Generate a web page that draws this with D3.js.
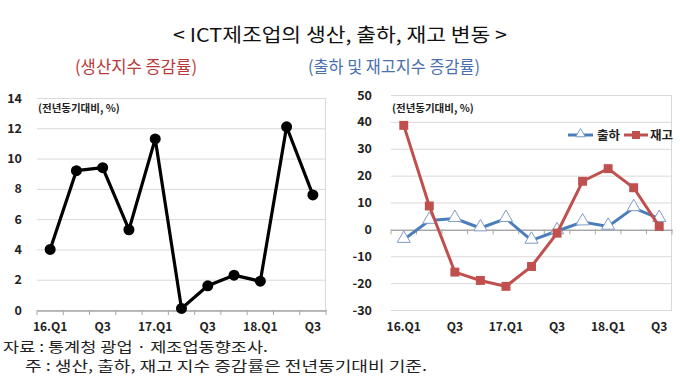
<!DOCTYPE html>
<html>
<head>
<meta charset="utf-8">
<script src="https://cdn.jsdelivr.net/npm/d3@7"></script>
<style>
body { margin: 0; background: #fff; }
svg { display: block; font-family: "Noto Sans CJK KR", "Noto Sans", sans-serif; }
</style>
</head>
<body>
<div id="body"></div>
<script>
var quarters = ['16.Q1','16.Q2','16.Q3','16.Q4','17.Q1','17.Q2','17.Q3','17.Q4','18.Q1','18.Q2','18.Q3'];
var qLabels = ['16.Q1','','Q3','','17.Q1','','Q3','','18.Q1','','Q3'];
var production = [4.0, 9.2, 9.4, 5.3, 11.3, 0.1, 1.6, 2.3, 1.9, 12.1, 7.6];
var shipment = [-3.8, 3.3, 4.0, 0.5, 4.0, -4.1, -0.6, 2.7, 1.1, 8.0, 4.0];
var inventory = [38.7, 8.7, -15.9, -19.0, -21.2, -13.8, -1.4, 17.9, 22.6, 15.5, 1.1];
var leftTicks = [0, 2, 4, 6, 8, 10, 12, 14];
var rightTicks = [-30, -20, -10, 0, 10, 20, 30, 40, 50];

var W = 680, H = 388;
var svg = d3.select("#body").append("svg").attr("width", W).attr("height", H);

// titles
svg.append("text").attr("x", 340).attr("y", 42).attr("text-anchor", "middle")
  .attr("font-size", 19).attr("fill", "#111")
  .attr("textLength", 334).attr("lengthAdjust", "spacingAndGlyphs")
  .text("< ICT제조업의 생산, 출하, 재고 변동 >");
svg.append("text").attr("x", 136).attr("y", 73).attr("text-anchor", "middle")
  .attr("font-size", 17).attr("fill", "#b83a3a")
  .attr("textLength", 122).attr("lengthAdjust", "spacingAndGlyphs")
  .text("(생산지수 증감률)");
svg.append("text").attr("x", 394).attr("y", 73).attr("text-anchor", "middle")
  .attr("font-size", 17).attr("fill", "#4a6fb0")
  .attr("textLength", 172).attr("lengthAdjust", "spacingAndGlyphs")
  .text("(출하 및 재고지수 증감률)");

function drawPanel(cfg) {
  var x = d3.scaleBand().domain(quarters).range(cfg.xr);
  var y = d3.scaleLinear().domain(cfg.yd).range([310, cfg.ytop]);
  var g = svg.append("g");

  // grid
  g.selectAll("line.grid").data(cfg.ticks).enter().append("line")
    .attr("x1", cfg.xr[0]).attr("x2", cfg.xr[1])
    .attr("y1", function(d){ return y(d) + 0.5; }).attr("y2", function(d){ return y(d) + 0.5; })
    .attr("stroke", "#d9d9d9");
  g.append("line").attr("x1", cfg.xr[1] - 0.5).attr("x2", cfg.xr[1] - 0.5)
    .attr("y1", y(cfg.yd[1])).attr("y2", y(cfg.yd[0])).attr("stroke", "#d9d9d9");

  // y labels
  g.selectAll("text.yl").data(cfg.ticks).enter().append("text")
    .attr("x", cfg.xr[0] - cfg.gap).attr("y", function(d){ return y(d) + 4.5; })
    .attr("text-anchor", "end").attr("font-size", 12.5).attr("font-weight", "bold")
    .attr("fill", "#222").text(function(d){ return d; });

  // x axis at zero
  var axis = d3.axisBottom(x).tickSize(0).tickFormat("");
  var ax = g.append("g").attr("transform", "translate(0," + (y(0) + 0.5) + ")").call(axis);
  ax.select(".domain").attr("stroke", "#a6a6a6").attr("stroke-width", 1.3);
  var bounds = quarters.map(function(q){ return x(q); }).concat([cfg.xr[1]]);
  g.selectAll("line.tk").data(bounds).enter().append("line")
    .attr("x1", function(d){ return d; }).attr("x2", function(d){ return d; })
    .attr("y1", y(0)).attr("y2", y(0) + 5).attr("stroke", "#a6a6a6");

  var shown = quarters.filter(function(q, i){ return qLabels[i] !== ''; });
  g.selectAll("text.xl").data(shown).enter().append("text")
    .attr("x", function(d){ return x(d) + x.bandwidth() / 2; }).attr("y", 331)
    .attr("text-anchor", "middle").attr("font-size", 12).attr("font-weight", "bold")
    .attr("fill", "#222").text(function(d){ return qLabels[quarters.indexOf(d)]; });

  g.append("text").attr("x", cfg.xr[0] + 1).attr("y", 112)
    .attr("font-size", 10.5).attr("font-weight", "bold").attr("fill", "#222")
    .text("(전년동기대비, %)");

  return { x: x, y: y, g: g };
}

// left panel
var L = drawPanel({ xr: [37, 326], yd: [0, 14], ytop: 98, ticks: leftTicks, gap: 15 });
var cx = function(d, i){ return L.x(quarters[i]) + L.x.bandwidth() / 2; };
L.g.append("path").datum(production)
  .attr("d", d3.line().x(cx).y(function(d){ return L.y(d); }))
  .attr("fill", "none").attr("stroke", "#000").attr("stroke-width", 3.2).attr("stroke-linejoin", "round");
L.g.selectAll("circle").data(production).enter().append("circle")
  .attr("cx", cx).attr("cy", function(d){ return L.y(d); }).attr("r", 5.5).attr("fill", "#000");

// right panel
var R = drawPanel({ xr: [391, 672], yd: [-30, 50], ytop: 95, ticks: rightTicks, gap: 19 });
var rx = function(d, i){ return R.x(quarters[i]) + R.x.bandwidth() / 2; };
var blue = "#4a7ebb", red = "#c0504d";
var tri = d3.symbol().type(d3.symbolTriangle).size(75);
var sq = d3.symbol().type(d3.symbolSquare).size(80);

R.g.append("path").datum(shipment)
  .attr("d", d3.line().x(rx).y(function(d){ return R.y(d); }))
  .attr("fill", "none").attr("stroke", blue).attr("stroke-width", 3);
R.g.selectAll("path.tri").data(shipment).enter().append("path")
  .attr("transform", function(d, i){ return "translate(" + rx(d, i) + "," + (R.y(d) - 1) + ")"; })
  .attr("d", tri).attr("fill", "#fff").attr("stroke", "#7f9cc4").attr("stroke-width", 1);

R.g.append("path").datum(inventory)
  .attr("d", d3.line().x(rx).y(function(d){ return R.y(d); }))
  .attr("fill", "none").attr("stroke", red).attr("stroke-width", 3);
R.g.selectAll("path.sq").data(inventory).enter().append("path")
  .attr("transform", function(d, i){ return "translate(" + rx(d, i) + "," + R.y(d) + ")"; })
  .attr("d", sq).attr("fill", red);

// legend
var lg = svg.append("g").attr("transform", "translate(0,135)");
lg.append("line").attr("x1", 568).attr("x2", 593).attr("stroke", blue).attr("stroke-width", 3);
lg.append("path").attr("transform", "translate(580.5,-1)").attr("d", d3.symbol().type(d3.symbolTriangle).size(40))
  .attr("fill", "#fff").attr("stroke", "#7f9cc4");
lg.append("text").attr("x", 597).attr("y", 4.5).attr("font-size", 12.5).attr("font-weight", "bold").attr("fill", "#222").text("출하");
lg.append("line").attr("x1", 624).attr("x2", 648).attr("stroke", red).attr("stroke-width", 3);
lg.append("rect").attr("x", 632).attr("y", -4).attr("width", 8).attr("height", 8).attr("fill", red);
lg.append("text").attr("x", 650).attr("y", 4.5).attr("font-size", 12.5).attr("font-weight", "bold").attr("fill", "#222").text("재고");

// notes
svg.append("text").attr("x", 3).attr("y", 352).attr("font-size", 14).attr("fill", "#222")
  .attr("textLength", 265).attr("lengthAdjust", "spacingAndGlyphs")
  .text("자료 : 통계청 광업 · 제조업동향조사.");
svg.append("text").attr("x", 25).attr("y", 371).attr("font-size", 14).attr("fill", "#222")
  .attr("textLength", 402).attr("lengthAdjust", "spacingAndGlyphs")
  .text("주 : 생산, 출하, 재고 지수 증감률은 전년동기대비 기준.");
</script>
</body>
</html>
